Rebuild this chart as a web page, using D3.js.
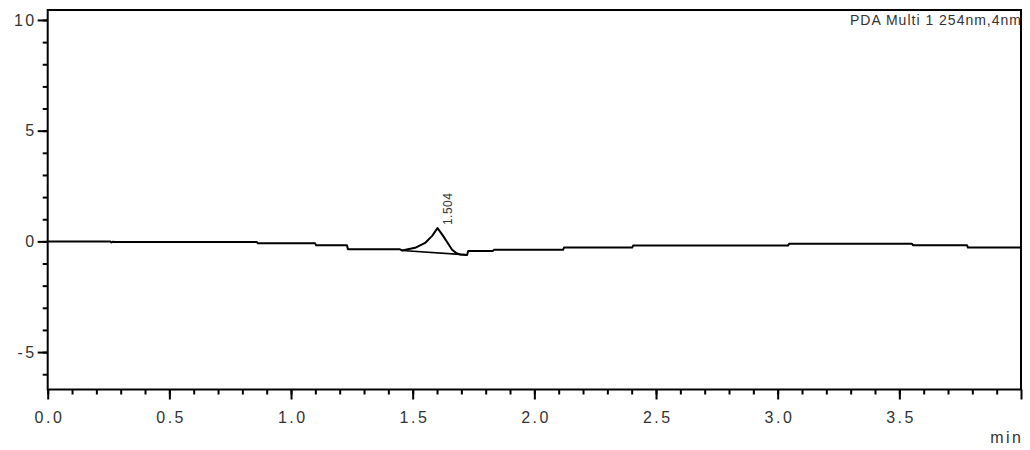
<!DOCTYPE html>
<html>
<head>
<meta charset="utf-8">
<script src="https://cdn.jsdelivr.net/npm/d3@7"></script>
<style>
  html, body { margin: 0; padding: 0; background: #fff; }
  svg { display: block; }
  text { font-family: "Liberation Sans", Arial, sans-serif; fill: #333; }
</style>
</head>
<body>
<div id="chart"></div>
<script>
// Chromatogram trace (time in min, signal in mV)
const timeMin = [0, 0.256, 0.262, 0.268, 0.277, 0.860, 0.864, 1.099, 1.103, 1.230,
  1.234, 1.448, 1.456, 1.510, 1.551, 1.580, 1.602, 1.625, 1.646, 1.662,
  1.678, 1.695, 1.724, 1.728, 1.830, 1.834, 2.118, 2.122, 2.402, 2.406,
  3.043, 3.047, 3.552, 3.556, 3.778, 3.782, 4.0]
const signalMv = [0, 0, -0.045, -0.014, -0.03, -0.03, -0.09, -0.09, -0.18, -0.18,
  -0.36, -0.36, -0.41, -0.29, -0.07, 0.25, 0.60, 0.25, -0.11, -0.38,
  -0.52, -0.59, -0.61, -0.43, -0.43, -0.38, -0.38, -0.28, -0.28, -0.19,
  -0.19, -0.11, -0.11, -0.17, -0.17, -0.28, -0.28]

// Integration baseline under the peak and the peak label
const peakBaseTime = [1.456, 1.724]
const peakBaseValue = [-0.41, -0.61]
const peakTime = 1.602
const peakValue = 0.60
const peakLabel = '1.504'

const xMajorTicks = [0, 0.5, 1.0, 1.5, 2.0, 2.5, 3.0, 3.5, 4.0]
const xMajorLabels = ['0.0', '0.5', '1.0', '1.5', '2.0', '2.5', '3.0', '3.5', '']
const yMajorTicks = [-5, 0, 5, 10]
const yMajorLabels = ['-5', '0', '5', '10']
const yMinorTicks = d3.range(-6, 11, 1)
const xMinorTicks = d3.range(0, 40, 1).map(d => d / 10)

const legendText = 'PDA Multi 1 254nm,4nm'
const xUnit = 'min'

const width = 1030
const height = 450
const margin = { top: 10, right: 9, bottom: 60.5, left: 47.7 }

const x = d3.scaleLinear()
  .domain([0, 4])
  .range([margin.left, width - margin.right])

const y = d3.scaleLinear()
  .domain([-6.69, 10.45])
  .range([height - margin.bottom, margin.top])

const svg = d3.select('#chart')
  .append('svg')
  .attr('width', width)
  .attr('height', height)

// Minor ticks
svg.append('g')
  .attr('transform', `translate(0,${y.range()[0]})`)
  .call(d3.axisBottom(x).tickValues(xMinorTicks).tickSize(5).tickFormat(''))
  .call(g => g.select('.domain').remove())

svg.append('g')
  .attr('transform', `translate(${x.range()[0]},0)`)
  .call(d3.axisLeft(y).tickValues(yMinorTicks).tickSize(5).tickFormat(''))
  .call(g => g.select('.domain').remove())

// Major ticks with labels
svg.append('g')
  .attr('class', 'x-axis')
  .attr('transform', `translate(0,${y.range()[0]})`)
  .call(d3.axisBottom(x).tickValues(xMajorTicks).tickSize(10).tickPadding(12)
    .tickFormat((d, i) => xMajorLabels[i]))
  .call(g => g.select('.domain').remove())

svg.append('g')
  .attr('class', 'y-axis')
  .attr('transform', `translate(${x.range()[0]},0)`)
  .call(d3.axisLeft(y).tickValues(yMajorTicks).tickSize(10).tickPadding(1)
    .tickFormat((d, i) => yMajorLabels[i]))
  .call(g => g.select('.domain').remove())

svg.selectAll('.tick line')
  .attr('stroke', '#000')
  .attr('stroke-width', 2)

svg.selectAll('.x-axis .tick text')
  .style('font-size', '16px')
  .style('letter-spacing', '2.5px')
  .attr('dx', '1.25px')
  .attr('fill', '#2a2a2a')

svg.selectAll('.y-axis .tick text')
  .style('font-size', '16px')
  .style('letter-spacing', '2.5px')
  .attr('fill', '#2a2a2a')

// Plot frame
svg.append('rect')
  .attr('x', x.range()[0])
  .attr('y', y.range()[1])
  .attr('width', x.range()[1] - x.range()[0])
  .attr('height', y.range()[0] - y.range()[1])
  .attr('fill', 'none')
  .attr('stroke', '#000')
  .attr('stroke-width', 2)

// Trace
const line = d3.line()
  .x(d => x(d[0]))
  .y(d => y(d[1]))

svg.append('path')
  .datum(d3.zip(timeMin, signalMv))
  .attr('d', line)
  .attr('fill', 'none')
  .attr('stroke', '#000')
  .attr('stroke-width', 2)
  .attr('stroke-linejoin', 'round')

svg.append('path')
  .datum(d3.zip(peakBaseTime, peakBaseValue))
  .attr('d', line)
  .attr('fill', 'none')
  .attr('stroke', '#000')
  .attr('stroke-width', 1.6)

// Peak retention time label, rotated
svg.append('text')
  .attr('transform', `translate(${x(peakTime) + 14},${y(peakValue) - 3}) rotate(-90)`)
  .style('font-size', '12px')
  .style('letter-spacing', '0.5px')
  .attr('fill', '#111')
  .text(peakLabel)

// Legend, top right
svg.append('text')
  .attr('x', x.range()[1] + 1)
  .attr('y', 25)
  .attr('text-anchor', 'end')
  .style('font-size', '14px')
  .style('letter-spacing', '1px')
  .attr('fill', '#2a2a2a')
  .text(legendText)

// Unit label
svg.append('text')
  .attr('x', x.range()[1] + 2.5)
  .attr('y', 443)
  .attr('text-anchor', 'end')
  .style('font-size', '16px')
  .style('letter-spacing', '2.5px')
  .attr('fill', '#2a2a2a')
  .text(xUnit)
</script>
</body>
</html>
